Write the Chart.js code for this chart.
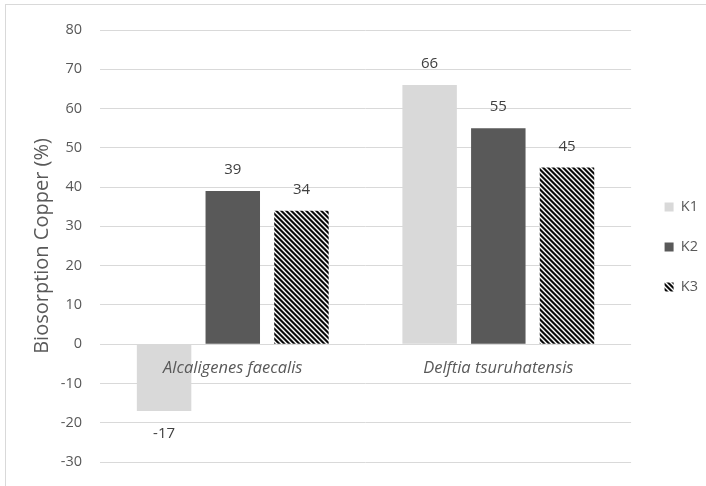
<!DOCTYPE html>
<html>
<head>
<meta charset="utf-8">
<script src="https://cdn.jsdelivr.net/npm/chart.js@4"></script>
<style>
  html, body { margin: 0; padding: 0; background: #fff; overflow: hidden; }
  #wrap { position: relative; width: 706px; height: 486px; }
  #frame { position: absolute; left: 5px; top: 4px; width: 720px; height: 500px;
           border-left: 1px solid #d9d9d9; border-top: 1px solid #d9d9d9; }
  canvas { position: absolute; left: 0; top: 0; }
</style>
</head>
<body>
<div id="wrap">
  <div id="frame"></div>
  <canvas id="chart" width="706" height="486"></canvas>
</div>
<script>
// datos del gráfico
const categories = ['Alcaligenes faecalis', 'Delftia tsuruhatensis'];
const seriesNames = ['K1', 'K2', 'K3'];
const k1Values = [-17, 66];
const k2Values = [39, 55];
const k3Values = [34, 45];
const yMin = -30;
const yMax = 80;
const yStep = 10;
const yTitle = 'Biosorption Copper (%)';

const TEXT = '#595959';
const GRID = '#d9d9d9';
const FONT = "'Open Sans', sans-serif";

// trama diagonal para K3 (rayas "\")
function makeHatch() {
    const size = 10;
    const c = document.createElement('canvas');
    c.width = size; c.height = size;
    const g = c.getContext('2d');
    const img = g.createImageData(size, size);
    const shades = [10, 10, 130, 255, 130];
    for (let y = 0; y < size; y++) {
        for (let x = 0; x < size; x++) {
            const d = (((x - y) % 5) + 5) % 5;
            const v = shades[d];
            const i = (y * size + x) * 4;
            img.data[i] = v; img.data[i + 1] = v; img.data[i + 2] = v; img.data[i + 3] = 255;
        }
    }
    g.putImageData(img, 0, 0);
    return g.createPattern(c, 'repeat');
}

// etiquetas de valor sobre/bajo las barras
const valueLabels = {
    id: 'valueLabels',
    afterDatasetsDraw(chart) {
        const ctx = chart.ctx;
        ctx.save();
        ctx.font = '15px ' + FONT;
        ctx.fillStyle = '#404040';
        ctx.textAlign = 'center';
        ctx.textBaseline = 'middle';
        chart.data.datasets.forEach((ds, di) => {
            const meta = chart.getDatasetMeta(di);
            meta.data.forEach((bar, i) => {
                const v = ds.data[i];
                const y = v >= 0 ? bar.y - 21 : bar.y + 23;
                ctx.fillText(String(v), bar.x, y);
            });
        });
        ctx.restore();
    }
};

// corre la leyenda un poco (como en Excel) sin tocar el área del gráfico
const legendNudge = {
    id: 'legendNudge',
    afterLayout(chart) {
        const lg = chart.legend;
        if (!lg) return;
        lg.left += 8; lg.right += 8;
        lg.top += 1; lg.bottom += 1;
    }
};

const hatch = makeHatch();

new Chart(document.getElementById('chart'), {
    type: 'bar',
    data: {
        labels: categories,
        datasets: [
            { label: seriesNames[0], data: k1Values, backgroundColor: '#d9d9d9' },
            { label: seriesNames[1], data: k2Values, backgroundColor: '#595959' },
            { label: seriesNames[2], data: k3Values, backgroundColor: hatch }
        ]
    },
    options: {
        responsive: false,
        animation: false,
        categoryPercentage: 0.776,
        barPercentage: 0.793,
        layout: { padding: { top: 30, bottom: 24, left: 0, right: 6 } },
        plugins: {
            legend: {
                position: 'right',
                labels: {
                    boxWidth: 9,
                    boxHeight: 9,
                    padding: 25.5,
                    color: TEXT,
                    font: { family: FONT, size: 14.5 }
                }
            },
            tooltip: { enabled: false }
        },
        scales: {
            x: {
                position: { y: 0 },
                afterFit(scale) { scale.paddingTop = 0; scale.paddingBottom = 0; },
                grid: { display: false },
                border: { display: false },
                ticks: {
                    z: 1,
                    color: TEXT,
                    padding: 6,
                    font: { family: FONT, size: 16.5, style: 'italic' }
                }
            },
            y: {
                min: yMin,
                max: yMax,
                afterFit(scale) {
                    scale.width = 100;
                    scale.paddingTop = 0;
                    scale.paddingBottom = 0;
                },
                grid: { color: GRID, drawTicks: false },
                border: { display: false },
                ticks: {
                    stepSize: yStep,
                    padding: 18,
                    color: TEXT,
                    font: { family: FONT, size: 14.5 }
                },
                title: {
                    display: true,
                    text: yTitle,
                    color: TEXT,
                    padding: { top: 30, bottom: 0 },
                    font: { family: FONT, size: 20 }
                }
            }
        }
    },
    plugins: [valueLabels, legendNudge]
});
</script>
</body>
</html>
